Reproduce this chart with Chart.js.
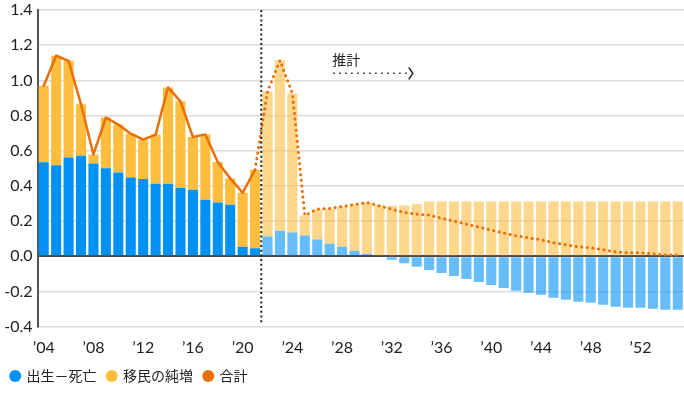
<!DOCTYPE html>
<html>
<head>
<meta charset="utf-8">
<script src="https://cdn.jsdelivr.net/npm/chart.js@4.4.1/dist/chart.umd.min.js"></script>
<style>
html, body { margin: 0; padding: 0; background: #fff; }
#wrap { width: 684px; height: 393px; }
</style>
</head>
<body>
<div id="wrap"><canvas id="chart"></canvas></div>
<script>
// years 2004-2055, projection starts at 2022
let years = [2004, 2005, 2006, 2007, 2008, 2009, 2010, 2011, 2012, 2013, 2014, 2015, 2016,
    2017, 2018, 2019, 2020, 2021, 2022, 2023, 2024, 2025, 2026, 2027, 2028, 2029, 2030,
    2031, 2032, 2033, 2034, 2035, 2036, 2037, 2038, 2039, 2040, 2041, 2042, 2043, 2044,
    2045, 2046, 2047, 2048, 2049, 2050, 2051, 2052, 2053, 2054, 2055];
let firstProjectedYear = 2022;

// 出生－死亡
let naturalData = [0.534, 0.517, 0.562, 0.572, 0.528, 0.501, 0.477, 0.448, 0.439, 0.412,
    0.412, 0.390, 0.378, 0.321, 0.306, 0.293, 0.055, 0.046,
    0.112, 0.146, 0.135, 0.118, 0.095, 0.072, 0.055, 0.032, 0.013, -0.005, -0.020, -0.040,
    -0.059, -0.078, -0.095, -0.112, -0.129, -0.146, -0.163, -0.180, -0.195, -0.207, -0.218,
    -0.235, -0.247, -0.258, -0.264, -0.275, -0.287, -0.292, -0.292, -0.298, -0.304, -0.304];

// 移民の純増
let migrationData = [0.435, 0.623, 0.549, 0.292, 0.051, 0.288, 0.272, 0.249, 0.224, 0.280,
    0.548, 0.491, 0.300, 0.372, 0.230, 0.150, 0.306, 0.446,
    0.826, 0.967, 0.790, 0.114, 0.173, 0.200, 0.228, 0.262, 0.293, 0.291, 0.287, 0.289,
    0.298, 0.312, 0.312, 0.312, 0.312, 0.312, 0.312, 0.312, 0.312, 0.312, 0.312,
    0.312, 0.312, 0.312, 0.312, 0.312, 0.312, 0.312, 0.312, 0.312, 0.312, 0.312];

// 合計
let totalData = [0.969, 1.140, 1.111, 0.864, 0.579, 0.789, 0.749, 0.697, 0.663, 0.692,
    0.960, 0.881, 0.678, 0.693, 0.536, 0.443, 0.361, 0.492,
    0.938, 1.113, 0.925, 0.232, 0.268, 0.272, 0.283, 0.294, 0.306, 0.286, 0.267, 0.249,
    0.239, 0.234, 0.217, 0.200, 0.183, 0.166, 0.149, 0.132, 0.117, 0.105, 0.094,
    0.077, 0.065, 0.054, 0.048, 0.037, 0.025, 0.020, 0.020, 0.014, 0.008, 0.008];

let yTicks = [-0.4, -0.2, 0.0, 0.2, 0.4, 0.6, 0.8, 1.0, 1.2, 1.4];

let projStart = years.indexOf(firstProjectedYear);

let blueColors = years.map(y => y < firstProjectedYear ? '#0091F5' : 'rgba(0, 145, 245, 0.6)');
let yellowColors = years.map(y => y < firstProjectedYear ? '#FFBD3D' : 'rgba(255, 189, 63, 0.6)');

// dotted divider + 推計 arrow
const projectionMarks = {
    id: 'projectionMarks',
    afterDatasetsDraw(chart) {
        const { ctx, chartArea, scales: { x, y } } = chart;
        const lineX = (x.getPixelForValue(projStart - 1) + x.getPixelForValue(projStart)) / 2;
        ctx.save();
        ctx.strokeStyle = '#222';
        ctx.lineWidth = 2;
        ctx.setLineDash([2, 2.7]);
        ctx.beginPath();
        ctx.moveTo(lineX, chartArea.top);
        ctx.lineTo(lineX, y.getPixelForValue(-0.38));
        ctx.stroke();

        const tx = x.getPixelForValue(23.2);
        ctx.setLineDash([]);
        ctx.fillStyle = '#222';
        ctx.font = '14px "Noto Sans CJK JP"';
        ctx.textBaseline = 'middle';
        ctx.fillText('推計', tx, y.getPixelForValue(1.12));

        const ay = y.getPixelForValue(1.04);
        const ax2 = x.getPixelForValue(29.2);
        ctx.lineWidth = 1.5;
        ctx.setLineDash([1.5, 4.5]);
        ctx.beginPath();
        ctx.moveTo(tx + 1, ay);
        ctx.lineTo(ax2, ay);
        ctx.stroke();
        ctx.setLineDash([]);
        ctx.beginPath();
        ctx.moveTo(ax2 + 2, ay - 6);
        ctx.lineTo(ax2 + 6, ay);
        ctx.lineTo(ax2 + 2, ay + 6);
        ctx.stroke();
        ctx.restore();
    }
};

Chart.defaults.font.family = 'Lato, "Noto Sans CJK JP", sans-serif';
Chart.defaults.color = '#222';

let popChart = new Chart(document.getElementById('chart').getContext('2d'), {
    type: 'bar',
    data: {
        labels: years,
        datasets: [{
            label: '出生－死亡',
            data: naturalData,
            backgroundColor: blueColors,
            stack: 'bars',
            order: 1
        }, {
            label: '移民の純増',
            data: migrationData,
            backgroundColor: yellowColors,
            stack: 'bars',
            order: 1
        }, {
            type: 'line',
            label: '合計',
            data: totalData,
            stack: 'line',
            borderColor: '#E8700A',
            backgroundColor: '#E8700A',
            borderWidth: 2.5,
            pointRadius: 0,
            tension: 0,
            borderCapStyle: 'round',
            borderJoinStyle: 'round',
            segment: {
                borderDash: c => c.p0DataIndex >= projStart - 1 ? [0.1, 5.5] : undefined,
                borderWidth: c => c.p0DataIndex >= projStart - 1 ? 3 : 2.5
            },
            order: 0
        }]
    },
    options: {
        responsive: true,
        maintainAspectRatio: false,
        animation: false,
        layout: { padding: { top: 0, right: 0, bottom: 0, left: 0 } },
        datasets: {
            bar: { categoryPercentage: 1, barPercentage: 0.81 }
        },
        scales: {
            x: {
                stacked: true,
                grid: { display: false, drawTicks: false },
                border: { display: false },
                afterFit: s => { s.height = 31.3; s.paddingRight = 0; s.paddingLeft = 0; },
                ticks: {
                    autoSkip: false,
                    maxRotation: 0,
                    padding: 12,
                    font: { size: 16 },
                    callback: (v, i) => (years[i] - 2004) % 4 === 0 ? '\u2019' + String(years[i]).slice(2) : ''
                }
            },
            y: {
                stacked: true,
                min: -0.4,
                max: 1.4,
                afterBuildTicks: s => { s.ticks = yTicks.map(v => ({ value: v })); },
                afterFit: s => { s.width = 37.5; s.paddingTop = 10; s.paddingBottom = 0; },
                grid: {
                    drawTicks: false,
                    color: c => c.tick && c.tick.value === 0 ? '#4a4a4a' : '#dcdcdc',
                    lineWidth: c => c.tick && c.tick.value === 0 ? 2 : 1.5
                },
                border: { display: true, color: '#555', width: 2 },
                ticks: {
                    padding: 5,
                    font: { size: 16 },
                    callback: v => v.toFixed(1)
                }
            }
        },
        plugins: {
            tooltip: { enabled: false },
            legend: {
                position: 'bottom',
                align: 'start',
                labels: {
                    usePointStyle: true,
                    pointStyle: 'circle',
                    boxWidth: 8.5,
                    boxHeight: 8.5,
                    padding: 11,
                    color: '#222',
                    font: { size: 14, family: '"Noto Sans CJK JP", sans-serif' },
                    sort: (a, b) => a.datasetIndex - b.datasetIndex,
                    generateLabels: chart => Chart.defaults.plugins.legend.labels.generateLabels(chart)
                        .map(l => Object.assign(l, { lineWidth: 0 }))
                }
            }
        }
    },
    plugins: [projectionMarks]
});
</script>
</body>
</html>
